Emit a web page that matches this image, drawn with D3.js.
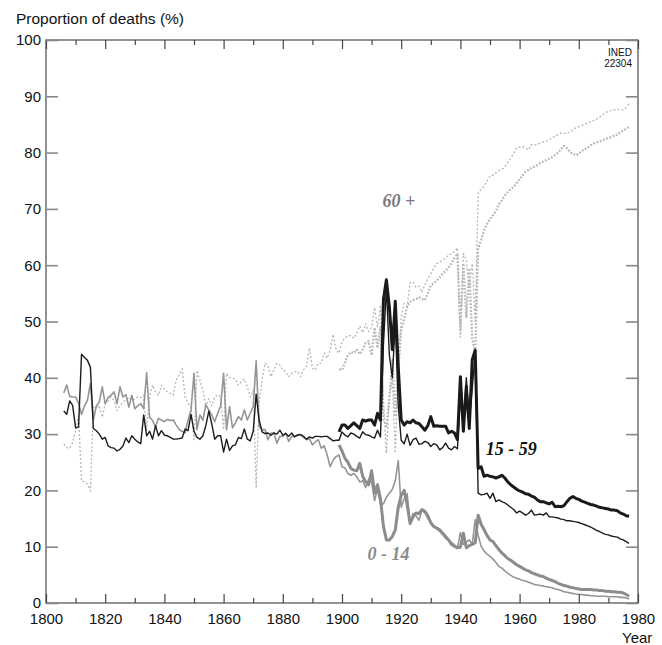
<!DOCTYPE html>
<html><head><meta charset="utf-8">
<script src="https://cdn.jsdelivr.net/npm/d3@7/dist/d3.min.js"></script>
<style>
html,body{margin:0;padding:0;background:#fff;}
svg{display:block;font-family:"Liberation Sans",Arial,sans-serif;}
</style></head>
<body>
<svg id="chart" width="662" height="645"></svg>
<script>
// ---------- DATA ----------
const yearsLong = d3.range(1806, 1998);   // 1806..1997
const yearsShort = d3.range(1899, 1998);  // 1899..1997
const xTickValues = [1800,1820,1840,1860,1880,1900,1920,1940,1960,1980,2000];
const xTickLabels = ["1800","1820","1840","1860","1880","1900","1920","1940","1960","1980","1980"];
const yTickValues = [0,10,20,30,40,50,60,70,80,90,100];

// 15 - 59, thin line (1806-1997)
const adult_thin = [
34.1,33.5,35.9,35.1,31.1,31.3,44.2,43.6,43.1,41.9,
31.0,30.6,30.0,29.1,29.4,27.9,27.6,27.5,27.0,27.3,
27.9,29.3,28.5,29.7,29.1,28.6,28.3,33.4,29.7,30.5,
29.1,31.5,29.7,30.6,29.8,29.7,29.4,29.1,29.1,29.2,
29.3,30.9,30.6,33.5,30.5,29.4,29.1,29.7,31.5,34.1,
31.8,29.1,29.7,29.7,26.8,29.1,27.1,27.9,28.1,29.4,
29.2,30.9,29.1,28.8,30.5,37.1,32.5,30.4,30.1,30.2,
29.8,30.2,30.0,30.7,29.8,30.1,29.6,30.2,29.5,29.8,
29.9,29.6,29.1,29.5,29.3,29.6,29.6,29.5,29.6,29.6,
29.2,28.8,28.9,28.9,30.4,29.8,29.5,30.2,30.0,29.6,
29.3,30.4,29.9,29.8,29.5,29.3,30.7,29.5,46.0,56.0,
44.0,40.0,50.0,35.0,28.9,28.3,30.0,28.0,29.0,29.3,
28.2,28.3,28.7,28.5,27.8,28.3,28.1,27.2,27.6,28.4,
27.5,27.2,27.8,27.4,36.7,31.0,40.0,32.0,38.0,44.4,
19.5,19.2,19.3,19.5,18.6,19.5,18.0,18.3,18.0,17.8,
17.4,17.0,16.6,16.0,16.3,16.0,15.6,15.9,16.5,15.6,
15.7,15.8,15.6,16.0,15.3,15.3,15.2,15.1,14.9,14.8,
14.6,14.6,14.5,14.4,14.3,14.1,13.9,13.7,13.5,13.2,
12.9,12.7,12.4,12.2,12.1,11.9,11.8,11.7,11.4,11.2,
10.9,10.6];

// 0 - 14, thin line (1806-1997)
const child_thin = [
37.3,38.7,36.7,36.6,36.6,35.5,33.5,35.0,36.0,39.0,
32.5,35.0,35.7,38.4,35.4,36.5,36.9,37.5,35.4,38.4,
36.6,37.0,34.8,36.9,34.5,35.0,35.4,34.5,40.9,33.0,
32.4,31.3,32.8,32.5,32.2,32.6,32.4,32.5,31.6,30.8,
30.5,30.2,32.5,34.3,40.8,30.8,33.4,32.5,35.2,34.3,
33.4,32.2,33.7,35.0,40.8,30.8,34.9,31.1,32.0,33.1,
32.5,34.3,32.5,33.7,34.9,43.0,31.3,30.8,30.8,29.0,
30.2,30.2,28.4,29.6,29.6,30.2,28.7,29.6,29.6,29.9,
29.9,29.4,29.0,29.2,28.1,28.6,29.0,27.5,27.9,26.3,
24.2,25.4,26.0,26.3,24.2,24.0,23.0,22.7,23.0,22.4,
21.5,21.7,20.5,22.0,21.5,18.2,20.2,17.6,17.6,18.8,
19.5,20.2,21.7,25.3,17.0,18.5,19.4,14.1,15.9,15.5,
14.7,16.5,16.0,15.0,14.5,13.6,13.2,12.7,12.2,11.5,
11.2,10.7,10.3,9.8,12.5,10.4,10.8,11.2,10.4,14.8,
12.0,10.1,9.2,8.7,8.3,7.8,7.2,6.5,6.2,5.7,
5.3,4.9,4.6,4.4,4.2,4.0,3.9,3.7,3.5,3.3,
3.2,3.1,3.0,2.9,2.8,2.7,2.5,2.4,2.2,2.0,
1.9,1.8,1.7,1.6,1.5,1.5,1.4,1.4,1.3,1.3,
1.2,1.2,1.2,1.2,1.1,1.1,1.1,1.1,1.0,1.0,
0.9,0.7];

// 60 +, thin dotted line (1806-1997)
const old_thin = [
28.2,27.6,27.5,28.5,30.6,33.3,21.7,21.5,21.1,19.9,
35.0,34.5,35.1,33.0,35.4,35.8,36.6,36.0,34.2,35.0,
35.7,36.0,36.5,36.0,36.2,36.6,36.5,36.9,30.6,36.6,
38.7,37.5,36.9,38.7,38.0,37.5,37.2,36.9,39.6,40.5,
41.6,36.6,35.5,34.8,29.0,41.3,39.6,37.8,34.8,36.3,
35.0,36.6,37.0,36.6,30.8,40.8,40.1,39.9,39.8,38.7,
39.3,39.8,38.4,36.6,37.8,20.4,35.5,39.6,42.6,42.0,
40.2,41.4,42.6,42.3,41.4,41.1,40.2,40.8,41.1,41.1,
40.2,41.4,42.0,45.3,41.7,41.4,42.6,42.6,44.4,43.5,
45.0,47.7,45.0,44.4,46.5,47.0,47.5,47.5,47.0,48.0,
49.2,48.0,49.6,48.2,49.0,52.5,49.1,52.9,36.0,26.6,
36.7,40.0,26.6,42.0,50.9,53.2,52.7,56.9,57.0,56.1,
56.3,55.2,56.5,57.6,58.5,59.5,60.3,60.5,60.9,61.3,
61.8,62.0,62.4,63.1,47.2,62.1,60.9,56.1,60.3,50.0,
72.8,73.5,74.0,75.0,75.8,76.0,76.4,76.8,77.0,77.5,
78.2,79.0,79.9,80.8,81.0,81.1,80.8,80.5,81.4,81.3,
81.5,81.7,81.9,82.0,82.3,82.6,83.0,83.2,83.5,83.4,
83.5,83.6,84.0,84.4,84.6,84.8,85.0,85.3,85.5,85.7,
85.9,86.3,86.7,87.1,87.3,87.5,87.6,87.7,87.6,87.6,
88.0,88.7];

// 15 - 59, thick line (1899-1997)
const adult_thick = [
30.4,31.6,31.6,31.0,31.5,32.0,31.5,31.0,32.5,32.3,
32.5,32.5,31.6,33.7,32.5,53.9,57.4,52.6,45.0,53.6,
42.0,32.5,31.6,32.2,32.0,32.5,32.0,31.9,31.3,30.7,
31.5,33.1,31.4,31.5,31.4,31.4,31.4,30.2,30.5,30.2,
29.0,40.2,30.5,38.5,31.0,43.2,44.9,23.9,24.2,22.5,
22.7,22.5,22.4,22.2,22.4,22.7,22.2,21.5,21.0,20.6,
20.2,19.9,19.7,19.4,19.3,19.0,18.8,18.3,18.0,18.0,
17.8,17.6,17.9,17.1,17.2,17.1,17.3,18.0,18.6,18.9,
18.6,18.4,18.1,17.9,17.7,17.5,17.4,17.2,17.0,16.9,
16.8,16.7,16.5,16.5,16.4,16.0,15.8,15.5,15.4];

// 0 - 14, thick line (1899-1997)
const child_thick = [
28.1,27.0,25.7,25.0,23.9,23.6,23.5,24.8,22.5,21.5,
21.0,23.5,19.5,21.0,18.5,13.6,11.2,11.2,11.8,13.0,
17.0,19.1,20.0,17.6,14.1,15.3,16.0,15.9,16.6,16.3,
15.5,14.2,13.6,13.3,13.0,12.4,11.8,11.2,10.4,10.1,
9.8,9.9,12.4,9.8,10.2,10.4,10.7,15.6,14.0,13.0,
12.0,11.2,10.9,10.2,9.5,8.9,8.4,7.9,7.6,7.2,
6.8,6.5,6.2,5.9,5.7,5.4,5.2,5.0,4.8,4.7,
4.4,4.2,4.0,3.8,3.5,3.3,3.1,3.0,2.8,2.7,
2.6,2.5,2.4,2.4,2.4,2.4,2.3,2.3,2.2,2.2,
2.1,2.1,2.0,2.0,1.9,1.9,1.8,1.5,1.2];

// 60 +, thick dotted line (1899-1997)
const old_thick = [
41.5,41.4,42.7,44.0,44.6,44.4,45.0,44.2,45.0,46.2,
46.5,44.0,48.9,45.3,49.0,32.5,31.4,36.2,43.2,33.4,
41.0,48.4,50.5,52.6,53.5,53.8,54.0,54.3,54.0,53.8,
55.0,56.4,56.8,57.3,57.8,58.5,59.0,59.6,60.3,61.3,
62.0,48.5,60.3,50.8,59.1,47.0,44.4,63.0,64.5,66.2,
67.3,68.2,68.9,69.6,70.8,71.5,72.4,73.0,73.5,73.9,
74.6,75.3,75.9,76.6,76.9,77.3,77.5,77.8,78.2,78.4,
78.7,78.9,79.2,79.6,80.0,80.6,81.2,80.8,80.1,79.8,
79.5,79.8,80.3,80.6,80.9,81.3,81.6,81.8,82.0,82.2,
82.4,82.6,82.8,83.0,83.2,83.6,83.9,84.2,84.6];

const groupLabels = [
  {text:"60 +", year:1913.7, value:70.3, color:"#7a7a7a"},
  {text:"15 - 59", year:1948.6, value:26.3, color:"#111"},
  {text:"0 - 14", year:1908.6, value:7.6, color:"#8a8a8a"}
];

// ---------- LAYOUT ----------
const svg = d3.select("#chart");
const L = 46, R = 638, T = 40, B = 603;
const x = d3.scaleLinear().domain([1800, 2000]).range([L, R]);
const y = d3.scaleLinear().domain([0, 100]).range([B, T]);

// titles
svg.append("text").attr("x", 16).attr("y", 24).attr("font-size", 15.5).attr("fill", "#111")
  .text("Proportion of deaths (%)");
svg.append("text").attr("x", 622).attr("y", 643).attr("font-size", 15).attr("fill", "#111").text("Year");
const ined = svg.append("g").attr("font-family", "'Liberation Sans Narrow','Liberation Sans',sans-serif")
  .attr("font-size", 10).attr("text-anchor", "end").attr("fill", "#111");
ined.append("text").attr("x", 632).attr("y", 56).text("INED");
ined.append("text").attr("x", 632).attr("y", 67).text("22304");

// lines
const series = [
  {years: yearsLong,  vals: old_thin,    color:"#b6b6b6", w:1.3, dash:"2,2"},
  {years: yearsShort, vals: old_thick,   color:"#b8b8b8", w:2.3, dash:"1.8,1.6"},
  {years: yearsLong,  vals: child_thin,  color:"#959595", w:1.6, dash:null},
  {years: yearsShort, vals: child_thick, color:"#8c8c8c", w:3.0, dash:null},
  {years: yearsLong,  vals: adult_thin,  color:"#1c1c1c", w:1.4, dash:null},
  {years: yearsShort, vals: adult_thick, color:"#1a1a1a", w:3.0, dash:null}
];
const line = d3.line().x(d => x(d[0])).y(d => y(d[1]));
const gLines = svg.append("g");
series.forEach(s => {
  const pts = s.years.map((yr, i) => [yr, s.vals[i]]);
  const p = gLines.append("path").datum(pts)
    .attr("fill", "none").attr("stroke", s.color).attr("stroke-width", s.w)
    .attr("stroke-linejoin", "round").attr("d", line);
  if (s.dash) p.attr("stroke-dasharray", s.dash);
});

// group labels
svg.append("g").selectAll("text").data(groupLabels).join("text")
  .attr("x", d => x(d.year)).attr("y", d => y(d.value))
  .attr("font-family", "'Liberation Serif','Times New Roman',serif")
  .attr("font-style", "italic").attr("font-weight", "bold").attr("font-size", 18)
  .attr("fill", d => d.color).text(d => d.text);

// frame
svg.append("rect").attr("x", L).attr("y", T).attr("width", R - L).attr("height", B - T)
  .attr("fill", "none").attr("stroke", "#666").attr("stroke-width", 1.4);

// axes
const styleAxis = (g, col, w) => {
  g.select(".domain").remove();
  g.selectAll(".tick line").attr("stroke", col).attr("stroke-width", w);
  g.selectAll(".tick text").attr("font-family", "'Liberation Sans',Arial,sans-serif").attr("font-size", 15).attr("fill", "#111");
};
const minorYears = d3.range(1810, 2000, 20);
svg.append("g").attr("transform", `translate(0,${B})`)
  .call(d3.axisBottom(x).tickValues(minorYears).tickSize(-5).tickFormat(""))
  .call(g => styleAxis(g, "#444", 1.2));
svg.append("g").attr("transform", `translate(0,${B})`)
  .call(d3.axisBottom(x).tickValues(xTickValues).tickSize(-9).tickPadding(10)
    .tickFormat((d, i) => xTickLabels[i]))
  .call(g => styleAxis(g, "#444", 1.2));
svg.append("g").attr("transform", `translate(0,${T})`)
  .call(d3.axisTop(x).tickValues(minorYears).tickSize(-5).tickFormat(""))
  .call(g => styleAxis(g, "#444", 1.2));
svg.append("g").attr("transform", `translate(0,${T})`)
  .call(d3.axisTop(x).tickValues(xTickValues).tickSize(-9).tickFormat(""))
  .call(g => styleAxis(g, "#444", 1.2));
svg.append("g").attr("transform", `translate(${L},0)`)
  .call(d3.axisLeft(y).tickValues(yTickValues).tickSize(-12).tickPadding(5))
  .call(g => styleAxis(g, "#888", 1.6));
svg.append("g").attr("transform", `translate(${R},0)`)
  .call(d3.axisRight(y).tickValues(yTickValues).tickSize(-12).tickFormat(""))
  .call(g => styleAxis(g, "#888", 1.6));
</script>
</body></html>
